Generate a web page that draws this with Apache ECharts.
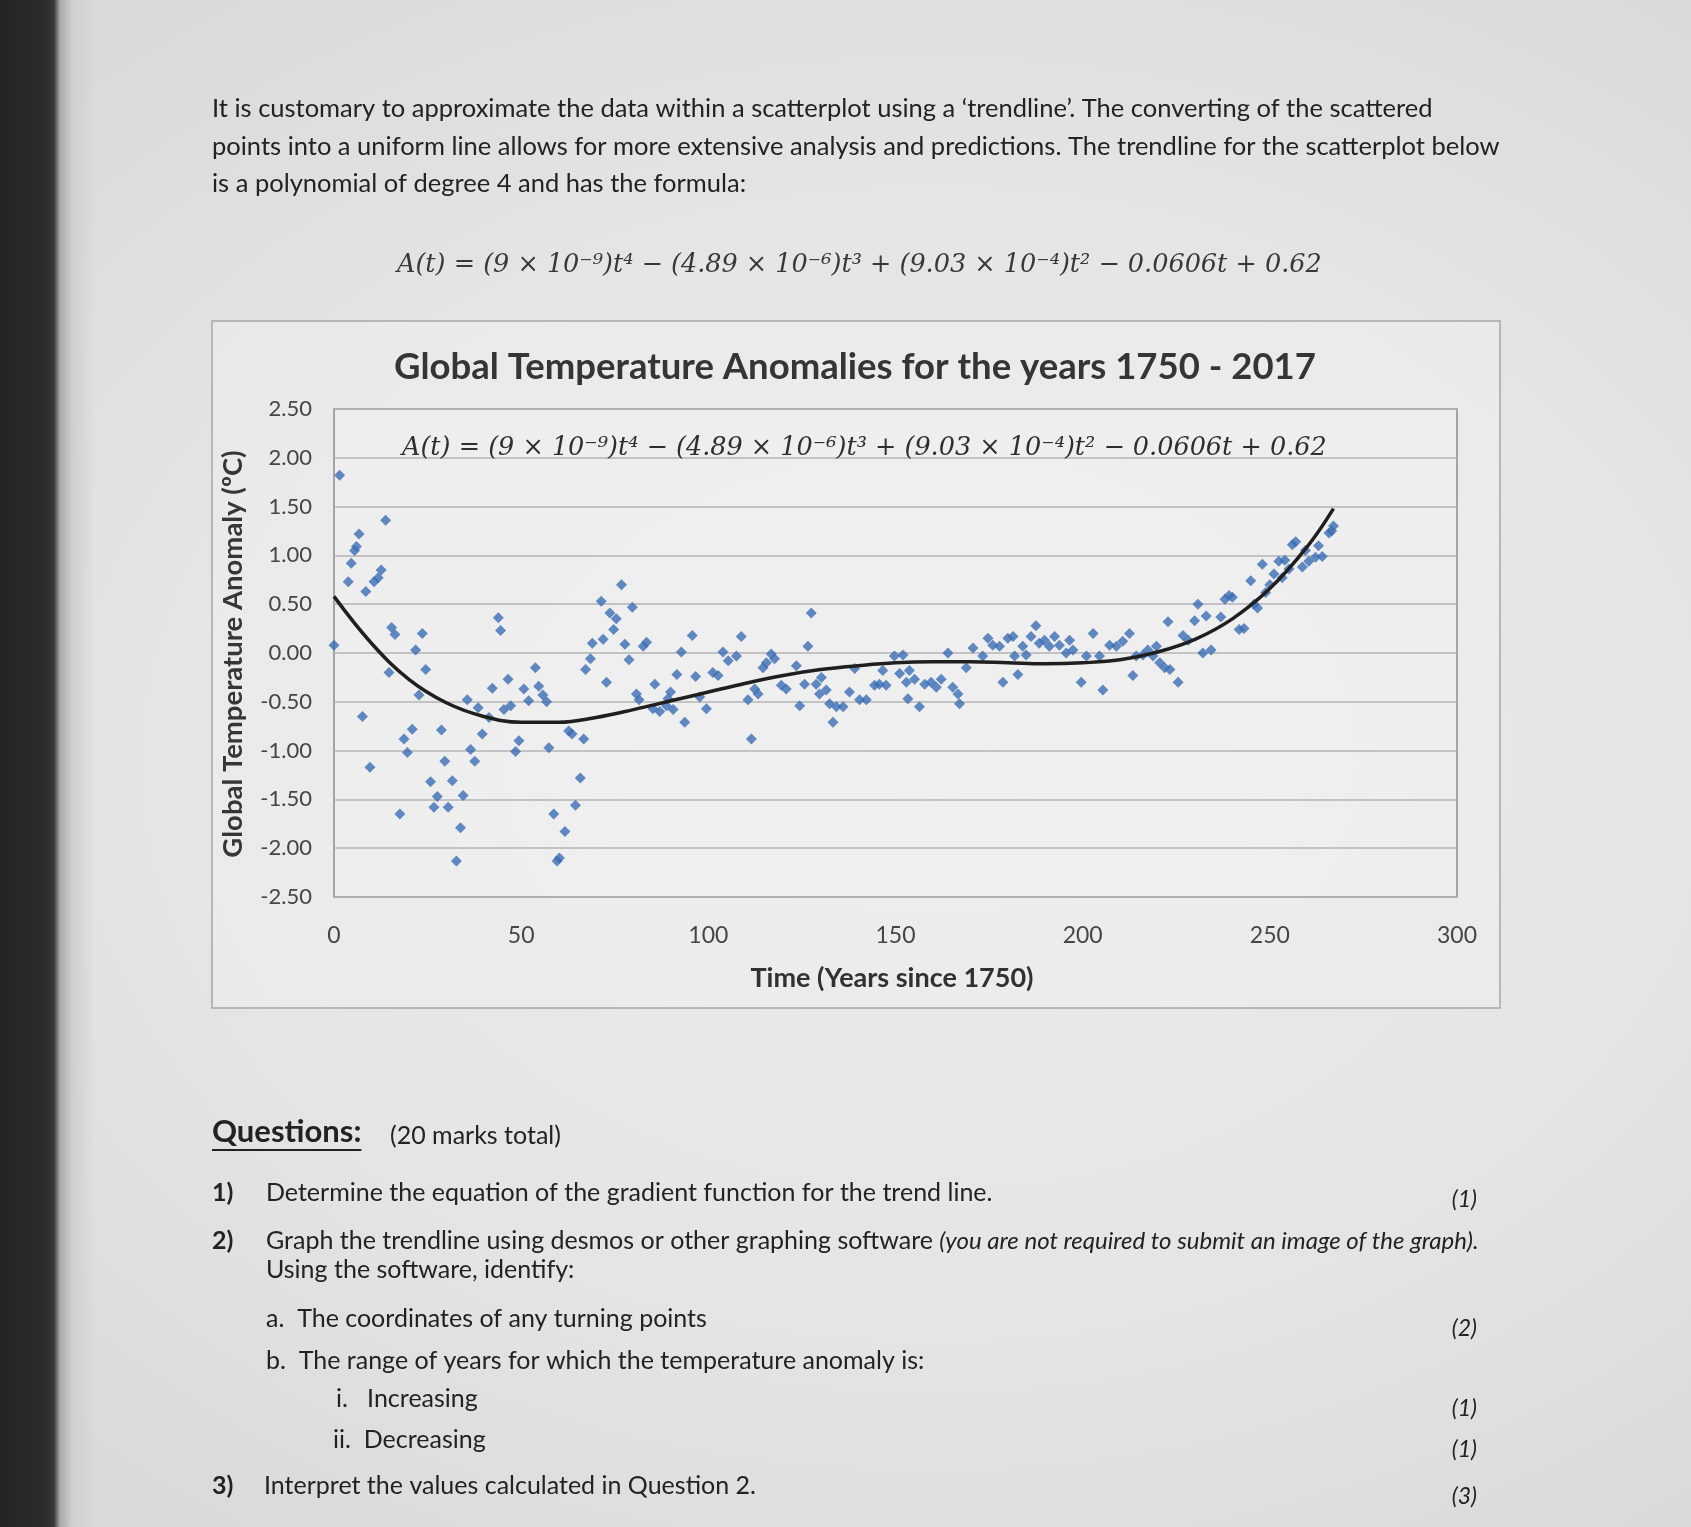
<!DOCTYPE html>
<html><head><meta charset="utf-8">
<script src="https://cdn.jsdelivr.net/npm/echarts@6/dist/echarts.min.js"></script>
<style>
html,body{margin:0;padding:0;width:1691px;height:1527px;overflow:hidden;}
body{background: radial-gradient(ellipse 80% 65% at 55% 50%, #ebebeb 0%, #e5e5e5 55%, #d8d8d8 100%);}
#bezel{position:absolute;left:0;top:0;width:95px;height:1527px;background:linear-gradient(to right,#242424 0px,#2c2c2c 46px,#383838 54px,#a9a9a9 60px,#cfcfcf 72px,rgba(216,216,216,0) 95px);}
#main{position:absolute;left:0;top:0;width:1691px;height:1527px;}
</style></head><body><div id="bezel"></div><div id="main"></div>
<script>
// ---- data ----
const scatterT = [0,1.5,3.8,4.6,5.5,6,6.7,7.6,8.5,9.6,10.7,11.8,12.6,13.8,14.7,15.4,16.3,17.6,18.7,19.6,20.9,21.8,22.7,23.6,24.5,25.8,26.7,27.6,28.7,29.6,30.5,31.6,32.7,33.8,34.5,35.6,36.5,37.6,38.5,39.6,41.4,42.3,43.9,44.5,45.4,46.5,47.2,48.5,49.4,50.7,52,53.8,54.7,55.8,56.8,57.4,58.7,59.6,60.2,61.7,62.7,63.6,64.5,65.8,66.7,67.2,68.5,69,
71.4,71.9,72.8,73.7,75.4,74.7,76.8,77.7,78.8,79.7,80.8,81.5,82.6,83.5,85.2,85.7,87,88.8,89.2,89.9,90.6,91.6,92.8,93.7,95.7,96.6,97.7,99.5,101.2,102.6,103.9,105.3,107.5,108.8,110.6,111.5,112.4,113.3,114.6,115.5,116.8,117.7,119.5,120.8,123.5,124.4,125.7,126.6,127.5,128.8,129.7,130.2,131.5,132.4,133.3,134.2,136,137.7,139.1,140.4,142.2,144.4,145.7,146.6,147.5,149.7,151.1,
152,152.9,153.3,153.7,155.1,156.4,157.8,159.5,160.9,162.2,164,165.3,166.7,167.1,168.9,170.7,173.3,174.7,176,177.8,178.7,180,181.4,181.8,182.7,184,184.9,186.2,187.5,188.4,189.8,191.1,192.5,193.8,195.6,196.5,197.4,199.6,201,202.8,204.5,205.4,207.2,209,210.7,212.5,213.4,214.3,216.1,217.4,218.8,219.7,220.6,221.9,222.8,223.3,225.5,226.8,228.2,229.9,230.8,232.1,233,234.3,
236.9,238,239.1,240,241.8,243.1,244.9,245.8,246.7,248,248.9,250,251.1,252.4,253.3,254,255.1,256,256.9,258.7,259.5,260.4,262.2,263,264,265.8,266.5,267];
const scatterA = [0.08,1.82,0.73,0.92,1.05,1.09,1.22,-0.65,0.63,-1.17,0.73,0.77,0.85,1.36,-0.2,0.26,0.19,-1.65,-0.88,-1.02,-0.78,0.03,-0.43,0.2,-0.17,-1.32,-1.58,-1.47,-0.79,-1.11,-1.58,-1.31,-2.13,-1.79,-1.46,-0.48,-0.99,-1.11,-0.56,-0.83,-0.66,-0.36,0.36,0.23,-0.58,-0.27,-0.54,-1.01,-0.9,-0.37,-0.49,-0.15,-0.34,-0.43,-0.5,-0.97,-1.65,-2.13,-2.1,-1.83,-0.8,-0.83,-1.56,-1.28,-0.88,-0.17,-0.06,0.1,
0.53,0.14,-0.3,0.41,0.35,0.24,0.70,0.09,-0.07,0.47,-0.42,-0.48,0.07,0.11,-0.57,-0.32,-0.60,-0.54,-0.47,-0.40,-0.58,-0.22,0.01,-0.71,0.18,-0.24,-0.45,-0.57,-0.2,-0.23,0.01,-0.08,-0.03,0.17,-0.48,-0.88,-0.37,-0.42,-0.15,-0.1,-0.01,-0.06,-0.33,-0.37,-0.13,-0.54,-0.32,0.07,0.41,-0.32,-0.42,-0.25,-0.38,-0.52,-0.71,-0.55,-0.55,-0.40,-0.16,-0.48,-0.48,-0.33,-0.32,-0.18,-0.33,-0.03,-0.21,
-0.02,-0.3,-0.47,-0.18,-0.27,-0.55,-0.32,-0.3,-0.35,-0.27,0,-0.35,-0.42,-0.52,-0.15,0.05,-0.03,0.15,0.08,0.07,-0.3,0.15,0.17,-0.03,-0.22,0.07,-0.02,0.17,0.28,0.1,0.13,0.07,0.17,0.08,0,0.13,0.03,-0.3,-0.03,0.2,-0.03,-0.38,0.08,0.07,0.12,0.2,-0.23,-0.03,-0.02,0.03,-0.03,0.07,-0.1,-0.15,0.32,-0.17,-0.3,0.18,0.13,0.33,0.5,0,0.38,0.03,
0.37,0.55,0.59,0.57,0.24,0.25,0.74,0.5,0.46,0.91,0.62,0.7,0.81,0.94,0.77,0.95,0.86,1.11,1.14,0.88,1.05,0.94,0.98,1.1,0.99,1.23,1.25,1.30];
const trendT = [0,10,20,30,40,50,60,70,80,90,100,110,120,130,140,150,160,170,180,190,200,210,220,230,240,250,260,267];
const trendA = [0.58,0.10,-0.27,-0.51,-0.65,-0.71,-0.71,-0.66,-0.58,-0.49,-0.40,-0.31,-0.23,-0.17,-0.13,-0.10,-0.09,-0.09,-0.10,-0.11,-0.10,-0.07,0.01,0.14,0.35,0.66,1.09,1.48];
const xTicks = [0,50,100,150,200,250,300];
const yTickLabels = ['-2.50','-2.00','-1.50','-1.00','-0.50','0.00','0.50','1.00','1.50','2.00','2.50'];

const introLines = [
  'It is customary to approximate the data within a scatterplot using a \u2018trendline\u2019. The converting of the scattered',
  'points into a uniform line allows for more extensive analysis and predictions. The trendline for the scatterplot below',
  'is a polynomial of degree 4 and has the formula:'
];
const formulaText = 'A(t) = (9 \u00d7 10\u207b\u2079)t\u2074 \u2212 (4.89 \u00d7 10\u207b\u2076)t\u00b3 + (9.03 \u00d7 10\u207b\u2074)t\u00b2 \u2212 0.0606t + 0.62';
const chartTitle = 'Global Temperature Anomalies for the years 1750 - 2017';
const yName = 'Global Temperature Anomaly (\u00baC)';
const xName = 'Time (Years since 1750)';

const scatterData = scatterT.map((t,i)=>[t, scatterA[i]]);
const trendData = trendT.map((t,i)=>[t, trendA[i]]);

const SANS = 'Lato';
const txtColor = '#222222';

function measure(text, font){
  const c = document.createElement('canvas').getContext('2d');
  c.font = font; return c.measureText(text).width;
}

const g = [];
// chart box
g.push({type:'rect', shape:{x:212,y:321,width:1288,height:687}, style:{fill:'rgba(240,240,240,0.5)', stroke:'#a6a6a6', lineWidth:1.5}, z:-10});
// intro paragraph
const introY = [109,147,184];
introLines.forEach((l,i)=>g.push({type:'text', x:212, y:introY[i], style:{text:l, fill:txtColor, font:'25.5px '+SANS, textVerticalAlign:'middle'}}));
// formula
g.push({type:'text', x:397, y:265, style:{text:formulaText, fill:'#383838', font:'italic 25.5px "DejaVu Serif"', textVerticalAlign:'middle'}});
// chart title
g.push({type:'text', x:855, y:367, style:{text:chartTitle, fill:'#353535', font:'bold 36.5px '+SANS, textAlign:'center', textVerticalAlign:'middle'}});
// equation inside chart
g.push({type:'text', x:402, y:448, style:{text:formulaText, fill:'#2e2e2e', font:'italic 25.5px "DejaVu Serif"', textVerticalAlign:'middle'}, z:10});
// axis names
g.push({type:'text', x:233, y:654, rotation:Math.PI/2, style:{text:yName, fill:'#363636', font:'bold 27.5px '+SANS, textAlign:'center', textVerticalAlign:'middle'}});
g.push({type:'text', x:892, y:978, style:{text:xName, fill:'#313131', font:'bold 27px '+SANS, textAlign:'center', textVerticalAlign:'middle'}});

// questions
const qFont = '25px '+SANS;
const qHead = 'bold 31px '+SANS;
const qw = measure('Questions:', qHead);
g.push({type:'text', x:212, y:1132, style:{text:'Questions:', fill:txtColor, font:qHead, textVerticalAlign:'middle'}});
g.push({type:'line', shape:{x1:212,y1:1150,x2:212+qw,y2:1150}, style:{stroke:txtColor, lineWidth:2}});
g.push({type:'text', x:390, y:1136, style:{text:'(20 marks total)', fill:txtColor, font:'25px '+SANS, textVerticalAlign:'middle'}});

const qLeft = [
  {x:212, y:1193, t:'1)', bold:true},
  {x:266, y:1193, t:'Determine the equation of the gradient function for the trend line.'},
  {x:212, y:1241, t:'2)', bold:true},
  {x:266, y:1270, t:'Using the software, identify:'},
  {x:266, y:1319, t:'a.  The coordinates of any turning points'},
  {x:266, y:1361, t:'b.  The range of years for which the temperature anomaly is:'},
  {x:336, y:1399, t:'i.   Increasing'},
  {x:333, y:1440, t:'ii.  Decreasing'},
  {x:212, y:1486, t:'3)', bold:true},
  {x:264, y:1486, t:'Interpret the values calculated in Question 2.'}
];
qLeft.forEach(q=>g.push({type:'text', x:q.x, y:q.y, style:{text:q.t, fill:txtColor, font:(q.bold?'bold ':'')+qFont, textVerticalAlign:'middle'}}));
g.push({type:'text', x:266, y:1241, style:{text:'{n|Graph the trendline using desmos or other graphing software }{i|(you are not required to submit an image of the graph).}', fill:txtColor, textVerticalAlign:'middle',
  rich:{n:{fontFamily:SANS, fontSize:25, fill:txtColor}, i:{fontFamily:SANS, fontSize:24, fontStyle:'italic', fill:txtColor}}}});
const marks = [[1200,'(1)'],[1329,'(2)'],[1409,'(1)'],[1450,'(1)'],[1497,'(3)']];
marks.forEach(m=>g.push({type:'text', x:1477, y:m[0], style:{text:m[1], fill:txtColor, font:'italic 23px '+SANS, textAlign:'right', textVerticalAlign:'middle'}}));

const chart = echarts.init(document.getElementById('main'), null, {renderer:'canvas'});
chart.setOption({
  backgroundColor:'transparent',
  animation:false,
  grid:{left:334, top:409, width:1123, height:488, show:true, borderColor:'#8c8c8c', borderWidth:1.5, backgroundColor:'rgba(244,244,244,0.35)'},
  xAxis:{type:'value', min:0, max:300, interval:50,
    axisLine:{show:false}, axisTick:{show:false}, splitLine:{show:false},
    axisLabel:{margin:27, color:'#454545', fontSize:23, fontFamily:SANS, formatter:v=>xTicks.includes(v)?String(v):''}},
  yAxis:{type:'value', min:-2.5, max:2.5, interval:0.5,
    axisLine:{show:false}, axisTick:{show:false},
    splitLine:{show:true, lineStyle:{color:'#b3b3b3', width:1.5}},
    axisLabel:{margin:22, color:'#454545', fontSize:22, fontFamily:SANS, formatter:v=>yTickLabels[Math.round((v+2.5)/0.5)]}},
  series:[
    {type:'scatter', data:scatterData, symbol:'diamond', symbolSize:11, itemStyle:{color:'#3a6db4'}, z:3},
    {type:'line', data:trendData, smooth:0.4, showSymbol:false, lineStyle:{color:'#1f1f1f', width:3.5}, z:4}
  ],
  graphic:g
});
</script></body></html>
